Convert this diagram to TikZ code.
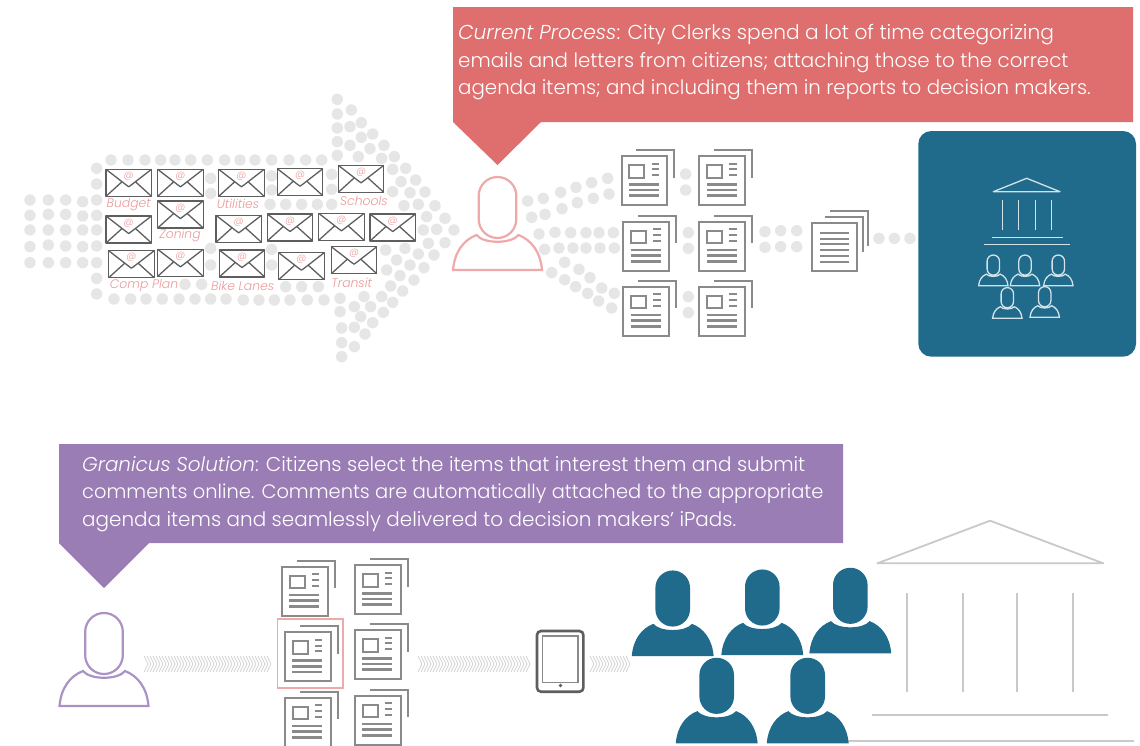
\documentclass[tikz,border=0pt]{standalone}
\usepackage{fontspec}
\setmainfont{Poppins}[UprightFont=* Light,ItalicFont=* Light Italic]
\definecolor{redbox}{HTML}{DF6E6E}
\definecolor{redline}{HTML}{EFA9A9}
\definecolor{redlabel}{HTML}{EC9A9A}
\definecolor{purplebox}{HTML}{9B7DB5}
\definecolor{purpleline}{HTML}{AB92C4}
\definecolor{tealbox}{HTML}{206B8B}
\definecolor{tealline}{HTML}{D3E2E9}
\definecolor{dotgray}{HTML}{E6E6E6}
\definecolor{docgray}{HTML}{8A8A8A}
\definecolor{templegray}{HTML}{C9C9C9}
\definecolor{envgray}{HTML}{5E5E5E}
\definecolor{chevgray}{HTML}{C6C6C6}
\newcommand{\linesize}[1]{\fontsize{#1}{27.4}\selectfont}
\tikzset{
  dotmark/.style={fill=dotgray},
  callouttext/.style={inner sep=0pt,anchor=north west,align=left,text=white,font=\fontsize{19.95}{27.4}\selectfont},
  maillabel/.style={inner sep=0pt,text=redlabel,font=\fontsize{12.4}{14}\selectfont\itshape},
  atmark/.style={inner sep=0pt,text=redlabel,font=\fontsize{10}{11}\selectfont},
  envline/.style={draw=envgray,line width=1.3pt,line join=round},
  docline/.style={draw=docgray,line width=2pt},
  docbar/.style={draw=docgray,line width=2.5pt},
  templeline/.style={draw=templegray,line width=1.8pt},
  cardline/.style={draw=tealline,line width=1.3pt},
  chevron/.style={draw=chevgray,line width=0.6pt}
}
\newcommand{\personpath}{(-44.5,0) .. controls (-43,-18) and (-34,-30) .. (-21,-35) .. controls (-14,-26) and (14,-26) .. (21,-35) .. controls (34,-30) and (43,-18) .. (44.5,0) -- cycle
 (-18.8,-74.2) .. controls (-18.8,-84.6) and (-10.4,-93) .. (0,-93) .. controls (10.4,-93) and (18.8,-84.6) .. (18.8,-74.2) -- (18.8,-50.8) .. controls (18.8,-40.4) and (10.4,-32) .. (0,-32) .. controls (-10.4,-32) and (-18.8,-40.4) .. (-18.8,-50.8) -- cycle}
\newcommand{\personicon}[4]{\begin{scope}[shift={(#1,#2)},scale=#3]\path[#4] \personpath;\end{scope}}
\newcommand{\docicon}[2]{\begin{scope}[shift={(#1,#2)}]
  \draw[docline] (14.7,-6) -- (52.7,-6) -- (52.7,21.7);
  \draw[docline,fill=white] (0,0) rectangle (45.5,49);
  \draw[docline] (7.7,9) rectangle (22.7,21.7);
  \foreach \yy in {7.7,13.3,19} {\draw[docline] (30,\yy) -- (37.3,\yy);}
  \foreach \yy in {28.3,34,39.7} {\draw[docbar] (7.3,\yy) -- (37.3,\yy);}
\end{scope}}
\newcommand{\envicon}[3]{\begin{scope}[shift={(#1,#2)}]
  \draw[envline] (0,0) rectangle (45.5,27);
  \draw[envline] (0,0) -- (20,15.5) -- (22.75,17.5) -- (25.5,15.5) -- (45.5,0);
  \draw[envline] (0,27) -- (16,12.5) (45.5,27) -- (29.5,12.5);
  \node[atmark] (at#3) at (22.75,7) {@};
\end{scope}}
\newcommand{\chevrun}[3]{\foreach \xx in {#1,#2,...,#3} {\draw[chevron] (\xx,656) -- (\xx+4,664) -- (\xx,672);}}
\begin{document}
\begin{tikzpicture}[x=1pt,y=-1pt]
\useasboundingbox (0,0) rectangle (1140,745);
\clip (0,0) rectangle (1140,745);
\fill[white] (0,0) rectangle (1140,745);
% dots of the big arrow
\begin{scope}[x=0.33333pt,y=-0.33333pt,shift={(0,270)}]
\foreach \xx/\yy in {90/330,145/330,197/330,248/335,290/330,90/376,145/373,197/373,248/378,290/376,90/420,145/420,197/420,248/420,290/420,90/470,145/465,197/468,248/470,290/468,90/518,145/518,197/518,248/518,290/518,
333/210,384/210,435/210,482/210,525/210,572/210,622/210,674/210,720/210,765/210,815/210,867/210,917/210,965/210,
290/235,290/282,290/565,290/612,
342/627,392/627,438/627,487/627,537/627,585/627,632/627,678/627,730/630,777/630,823/630,870/630,922/630,972/630,1020/625,
632/265,632/310,632/475,632/525,815/258,815/300,995/253,995/298,810/343,857/343,905/343,952/343,995/343,815/478,815/525,555/583,605/583,857/590,905/590,955/590,
1012/28,1012/72,1054/60,1012/114,1050/110,1084/98,1012/155,1050/166,1084/142,1118/132,1012/196,1075/200,1110/176,1152/166,1145/205,1183/200,1178/238,1217/235,1203/275,1247/270,1178/305,1230/308,1275/306,1212/347,1255/343,1305/347,1280/380,1335/385,1270/420,1310/418,1362/420,1285/460,1335/458,1157/480,1215/475,1255/492,1302/495,1190/510,1230/525,1272/533,1160/540,1200/557,1242/570,1172/588,1208/603,1092/620,1145/620,1178/637,1020/665,1063/650,1112/650,1150/667,1082/680,1118/698,1025/714,1063/712,1095/732,1025/758,1063/770,1025/800}
  {\fill[dotmark] (\xx,\yy) circle[radius=5.7pt];}
\end{scope}
% dots of the fan and the documents
\begin{scope}[x=0.33333pt,y=-0.33333pt,shift={(1320,390)}]
\foreach \xx/\yy in {263/213,310/205,362/187,408/172,455/158,503/145,275/262,315/253,366/236,412/218,460/205,507/192,
297/312,345/307,392/308,438/308,477/308,520/308,314/358,357/354,399/354,438/354,480/354,523/354,
374/397,417/418,450/443,485/474,523/490,335/428,374/449,407/470,443/490,476/513,515/534,
737/132,737/180,745/308,745/355,745/500,745/548,975/305,1022/302,1070/302,975/352,1022/350,1070/350,1317/325,1363/325,1410/325}
  {\fill[dotmark] (\xx,\yy) circle[radius=5.7pt];}
\end{scope}
% callouts
\fill[redbox] (453,7) -- (1133,7) -- (1133,122) -- (541,122) -- (497.5,165) -- (453,122) -- cycle;
\node[callouttext] (currenttext) at (458,24.5) {{\linesize{20.15}\textit{Current Process}: City Clerks spend a lot of time categorizing}\\{\linesize{19.82}emails and letters from citizens; attaching those to the correct}\\{\linesize{19.8}agenda items; and including them in reports to decision makers.}};
\fill[purplebox] (59,444) -- (843,444) -- (843,543) -- (149,543) -- (104,588) -- (59,543) -- cycle;
\node[callouttext] (solutiontext) at (82,456) {\textit{Granicus Solution}: Citizens select the items that interest them and submit\\{\linesize{19.43}comments online. Comments are automatically attached to the appropriate}\\agenda items and seamlessly delivered to decision makers' iPads.};
% envelopes
\envicon{106}{169.3}{a}\envicon{157.7}{169.3}{b}\envicon{218.7}{169.3}{c}\envicon{277.3}{168.7}{d}\envicon{338.3}{165.3}{e}
\envicon{106}{216}{f}\envicon{157.7}{201}{g}\envicon{216}{215.3}{h}\envicon{267.3}{214}{i}\envicon{318.7}{213.3}{j}\envicon{370}{214}{k}
\envicon{108.7}{250.7}{l}\envicon{157.7}{249.3}{m}\envicon{219.3}{250}{n}\envicon{278.7}{252.7}{o}\envicon{331.3}{246.7}{p}
\node[maillabel] (budget) at (128.7,205) {Budget};
\node[maillabel] (utilities) at (238,204) {Utilities};
\node[maillabel] (schools) at (364,201) {Schools};
\node[maillabel] (zoning) at (180,235) {Zoning};
\node[maillabel] (compplan) at (144,285.3) {Comp Plan};
\node[maillabel] (bikelanes) at (242.7,286) {Bike Lanes};
\node[maillabel] (transit) at (351.7,282.7) {Transit};
% upper row
\personicon{497.5}{270}{1}{draw=redline,line width=2.2pt,fill=white}
\docicon{621.7}{156}\docicon{699.3}{156}\docicon{623.3}{221.7}\docicon{699.3}{221.7}\docicon{623.3}{286.7}\docicon{699.3}{286.7}
\begin{scope}[shift={(811.7,223.3)}]
  \draw[docline] (18,-12.5) -- (56,-12.5) -- (56,23);
  \draw[docline] (13,-6.5) -- (51,-6.5) -- (51,29);
  \draw[docline,fill=white] (0,0) rectangle (45.5,48);
  \foreach \yy in {9.5,15.3,21.1,26.9,32.7,38.5} {\draw[docline] (8.3,\yy) -- (37.7,\yy);}
\end{scope}
% card
\fill[tealbox,rounded corners=13pt] (918.3,131) rectangle (1136,356.7);
\draw[cardline,line join=round] (993.3,191.7) -- (1026.7,178.3) -- (1060,191.7) -- cycle;
\foreach \xx in {1002.3,1018.3,1035.3,1051.7} {\draw[cardline] (\xx,200) -- (\xx,230);}
\draw[cardline] (992.3,237.3) -- (1062.7,237.3) (984,244.3) -- (1070,244.3);
\foreach \xx/\yy in {993.3/285.7,1025/285.7,1058.3/285.7,1007.3/318.3,1044.7/317.3}
  {\personicon{\xx}{\yy}{0.33}{cardline}}
% lower row
\personicon{104}{706}{1}{draw=purpleline,line width=2.2pt,fill=white}
\docicon{282}{566.7}\docicon{355}{565}\docicon{285}{632.3}\docicon{355}{630}\docicon{285}{697.7}\docicon{355}{695.7}
\draw[redline,line width=1.4pt] (277.3,619) rectangle (343,688);
\chevrun{144}{147}{268}
\chevrun{418}{421}{526}
\chevrun{590}{593}{626}
\draw[envgray,line width=2.6pt,rounded corners=4pt,fill=white] (537,631) rectangle (583.4,691.7);
\draw[docgray,line width=1.3pt] (542.5,636) rectangle (578,682.7);
\fill[envgray] (560.5,685.5) circle[radius=1.8pt];
% temple
\draw[templeline,line join=round] (877.3,563.3) -- (990,520.7) -- (1103.3,563.3) -- cycle;
\foreach \xx in {907.3,962.7,1017.3,1072.7} {\draw[templeline] (\xx,593.3) -- (\xx,691.7);}
\draw[templeline] (872.3,715) -- (1108.3,715) (848,741) -- (1134,741);
\foreach \xx/\yy in {672.7/656,762.3/655,850.3/653.3,716.7/743.3,807.7/743.3}
  {\personicon{\xx}{\yy}{0.92}{fill=tealbox}}
\end{tikzpicture}
\end{document}
